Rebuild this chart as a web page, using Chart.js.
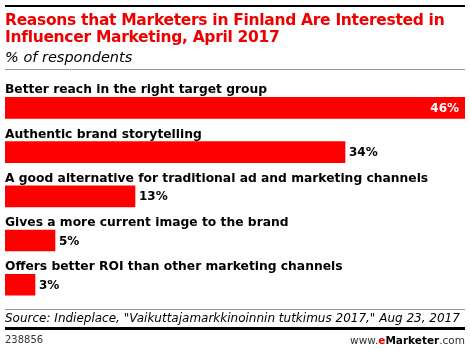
<!DOCTYPE html>
<html>
<head>
<meta charset="utf-8">
<script src="https://cdn.jsdelivr.net/npm/chart.js@4"></script>
<style>
  html, body { margin: 0; padding: 0; background: #fff; }
  #wrap { position: relative; width: 470px; height: 351px; overflow: hidden; font-family: "DejaVu Sans", Verdana, sans-serif; }
  #wrap canvas { position: absolute; left: 0; top: 0; }
  .abs { position: absolute; white-space: nowrap; }
  #topline { left: 5px; top: 5px; width: 460px; height: 2px; background: #000; }
  #title { left: 5px; top: 12px; color: #ee0000; font-weight: bold; font-size: 15.5px; line-height: 17px; letter-spacing: -0.3px; }
  #subtitle { left: 5px; top: 49px; font-style: italic; font-size: 14.5px; color: #000; }
  #grayline1 { left: 5px; top: 69px; width: 460px; height: 1px; background: #999; }
  #grayline2 { left: 5px; top: 309px; width: 460px; height: 1px; background: #999; }
  #source { left: 5px; top: 311px; font-style: italic; font-size: 12px; color: #000; }
  #botline { left: 5px; top: 327px; width: 460px; height: 3px; background: #000; }
  #id { left: 5px; top: 334px; font-size: 10px; color: #333; }
  #brand { right: 5px; top: 334px; font-size: 10.5px; color: #333; }
  #brand b { color: #000; }
  #brand .e { color: #ee0000; }
</style>
</head>
<body>
<div id="wrap">
  <canvas id="c" width="470" height="351"></canvas>
  <div class="abs" id="topline"></div>
  <div class="abs" id="title">Reasons that Marketers in Finland Are Interested in<br>Influencer Marketing, April 2017</div>
  <div class="abs" id="subtitle">% of respondents</div>
  <div class="abs" id="grayline1"></div>
  <div class="abs" id="grayline2"></div>
  <div class="abs" id="source">Source: Indieplace, "Vaikuttajamarkkinoinnin tutkimus 2017," Aug 23, 2017</div>
  <div class="abs" id="botline"></div>
  <div class="abs" id="id">238856</div>
  <div class="abs" id="brand">www.<b><span class="e">e</span>Marketer</b>.com</div>
</div>
<script>
const categories = [
  "Better reach in the right target group",
  "Authentic brand storytelling",
  "A good alternative for traditional ad and marketing channels",
  "Gives a more current image to the brand",
  "Offers better ROI than other marketing channels"
];
const values = [46, 34, 13, 5, 3];
const valueLabels = ["46%", "34%", "13%", "5%", "3%"];

const labelPlugin = {
  id: 'labels',
  afterDatasetsDraw(chart) {
    const ctx = chart.ctx;
    const meta = chart.getDatasetMeta(0);
    const xs = chart.scales.x;
    ctx.save();
    meta.data.forEach((bar, i) => {
      const y = bar.y;
      ctx.font = 'bold 12.3px "DejaVu Sans", Verdana, sans-serif';
      ctx.fillStyle = '#000';
      ctx.textAlign = 'left';
      ctx.textBaseline = 'alphabetic';
      ctx.fillText(categories[i], xs.left, y - 14.5);
      ctx.font = 'bold 12px "DejaVu Sans", Verdana, sans-serif';
      ctx.textBaseline = 'middle';
      const w = ctx.measureText(valueLabels[i]).width;
      if (bar.x + 4 + w > xs.right) {
        ctx.fillStyle = '#fff';
        ctx.textAlign = 'right';
        ctx.fillText(valueLabels[i], bar.x - 6, y + 1);
      } else {
        ctx.fillStyle = '#000';
        ctx.textAlign = 'left';
        ctx.fillText(valueLabels[i], bar.x + 4, y + 1);
      }
    });
    ctx.restore();
  }
};

new Chart(document.getElementById('c'), {
  type: 'bar',
  data: {
    labels: categories,
    datasets: [{
      data: values,
      backgroundColor: '#ff0000',
      borderWidth: 0,
      barThickness: 21
    }]
  },
  options: {
    indexAxis: 'y',
    responsive: false,
    animation: false,
    layout: { padding: { left: 5, right: 5, top: 85.7, bottom: 44.1 } },
    plugins: { legend: { display: false }, tooltip: { enabled: false } },
    scales: {
      x: { display: false, min: 0, max: 46 },
      y: { display: false }
    }
  },
  plugins: [labelPlugin]
});
</script>
</body>
</html>
